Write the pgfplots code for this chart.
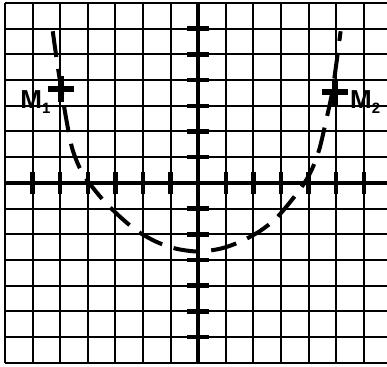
\documentclass[border=0pt]{standalone}
\usepackage{pgfplots}
\pgfplotsset{compat=1.18}
\usepackage{fontspec}
\setmainfont{Liberation Sans}
\begin{document}
\begin{tikzpicture}
\path[use as bounding box, clip] (-198.2pt,-183.9pt) rectangle (188.8pt,182.9pt);
\begin{axis}[
 anchor=origin, at={(0,0)},
 x=27.6pt, y=25.7pt,
 xmin=-7, xmax=7, ymin=-7, ymax=7,
 axis lines=middle,
 axis line style={-, line width=4.5pt},
 xtick={-6,...,6}, ytick={-6,...,6},
 extra x ticks={-7,7}, extra y ticks={-7,7},
 extra tick style={grid=major, major tick length=0pt},
 extra x tick labels={}, extra y tick labels={},
 xticklabels={}, yticklabels={},
 grid=major,
 grid style={black, line width=2pt},
 major tick length=22pt,
 tick align=center,
 tick style={black, line width=4.5pt},
 clip=false,
]
\addplot[black, line width=4pt, dash pattern=on 26pt off 12pt, smooth] coordinates {
(-5.27,5.9) (-5.1,4.6) (-4.95,3.6) (-4.8,2.6) (-4.58,1.4) (-4.3,0.6) (-3.95,0)
(-3.4,-0.72) (-2.8,-1.35) (-2.2,-1.88) (-1.5,-2.3) (-0.8,-2.56) (0,-2.67)
(0.8,-2.56) (1.5,-2.3) (2.2,-1.9) (2.8,-1.4) (3.35,-0.72) (3.85,0)
(4.15,0.6) (4.4,1.35) (4.65,2.5) (4.85,3.5) (5.0,4.6) (5.16,5.9)};
\addplot[only marks, mark=+, mark size=13pt, line width=6pt, black] coordinates {(-4.98,3.64) (4.95,3.53)};
\node[font=\fontsize{26}{26}\selectfont\bfseries] at (axis cs:-5.9,3.14) {M\raisebox{-5pt}{\fontsize{15}{15}\selectfont 1}};
\node[font=\fontsize{26}{26}\selectfont\bfseries] at (axis cs:6.05,3.14) {M\raisebox{-5pt}{\fontsize{15}{15}\selectfont 2}};
\end{axis}
\end{tikzpicture}
\end{document}
